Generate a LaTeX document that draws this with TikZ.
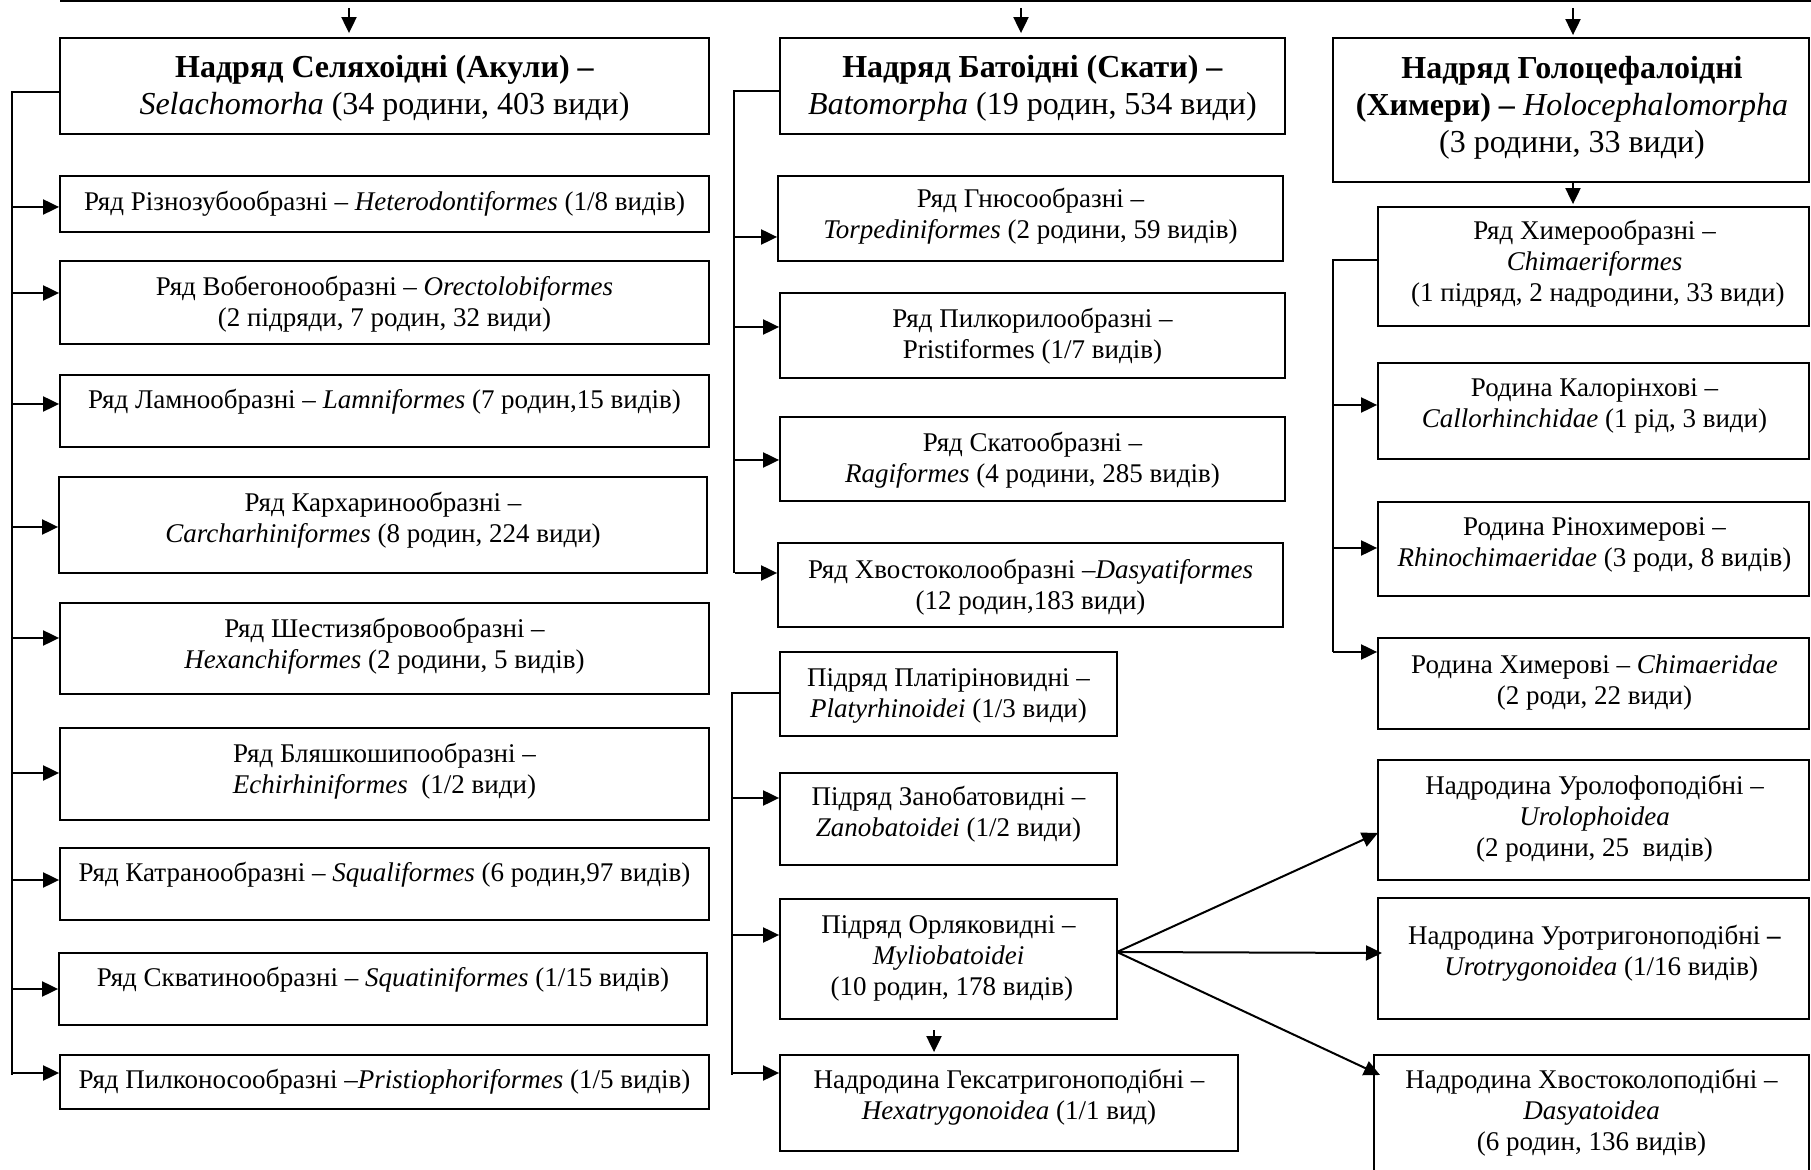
\documentclass[tikz,border=0pt]{standalone}
\usepackage{fontspec}
\setmainfont{Liberation Serif}
\usetikzlibrary{arrows.meta,fit}

\begin{document}
\begin{tikzpicture}[x=0.5pt,y=-0.5pt,
  box/.style={draw,line width=0.9pt,inner sep=0pt},
  txt/.style={align=center,inner sep=0pt,yshift=1.25pt,font=\fontsize{13.5}{15.5}\selectfont},
  ttl/.style={align=center,inner sep=0pt,yshift=1.25pt,font=\fontsize{16}{18.5}\selectfont},
  conn/.style={line width=0.8pt},
  arr/.style={line width=1pt,-{Triangle[length=8pt,width=7.5pt]}},
]
\useasboundingbox (0,0) rectangle (1811,1170);

% top rule
\coordinate (topL) at (60,1);
\coordinate (topR) at (1811,1);
\draw[line width=1pt] (topL) -- (topR);

% ---------- boxes ----------
\node[box,fit={(60,38) (709,134)}] (L0) {};
\node[box,fit={(60,176) (709,232)}] (L1) {};
\node[box,fit={(60,261) (709,344)}] (L2) {};
\node[box,fit={(60,375) (709,447)}] (L3) {};
\node[box,fit={(59,477) (707,573)}] (L4) {};
\node[box,fit={(60,603) (709,694)}] (L5) {};
\node[box,fit={(60,728) (709,820)}] (L6) {};
\node[box,fit={(60,848) (709,920)}] (L7) {};
\node[box,fit={(59,953) (707,1025)}] (L8) {};
\node[box,fit={(60,1055) (709,1109)}] (L9) {};

\node[box,fit={(780,38) (1285,134)}] (M0) {};
\node[box,fit={(778,176) (1283,261)}] (M1) {};
\node[box,fit={(780,293) (1285,378)}] (M2) {};
\node[box,fit={(780,417) (1285,501)}] (M3) {};
\node[box,fit={(778,543) (1283,627)}] (M4) {};
\node[box,fit={(780,652) (1117,736)}] (P1) {};
\node[box,fit={(780,773) (1117,865)}] (P2) {};
\node[box,fit={(780,899) (1117,1019)}] (P3) {};
\node[box,fit={(780,1055) (1238,1151)}] (P4) {};

\node[box,fit={(1333,38) (1809,182)}] (H0) {};
\node[box,fit={(1378,207) (1809,326)}] (R1) {};
\node[box,fit={(1378,363) (1809,459)}] (R2) {};
\node[box,fit={(1378,502) (1809,596)}] (R3) {};
\node[box,fit={(1378,638) (1809,729)}] (R4) {};
\node[box,fit={(1378,760) (1809,880)}] (R5) {};
\node[box,fit={(1378,898) (1809,1019)}] (R6) {};
\node[box,fit={(1374,1055) (1809,1190)}] (R7) {};

% ---------- texts ----------
\node[ttl] (L0t) at (384.5,91.5) {\strut\textbf{Надряд Селяхоідні (Акули) –}\\\strut\textit{Selachomorha} (34 родини, 403 види)};
\node[txt] (L1t) at (384.5,207) {\strut Ряд Різнозубообразні – \textit{Heterodontiformes} (1/8 видів)};
\node[txt] (L2t) at (384.5,307) {\strut Ряд Вобегонообразні – \textit{Orectolobiformes}\\\strut(2 підряди, 7 родин, 32 види)};
\node[txt] (L3t) at (384.5,405) {\strut Ряд Ламнообразні – \textit{Lamniformes} (7 родин,15 видів)};
\node[txt] (L4t) at (383,523) {\strut Ряд Кархаринообразні –\\\strut\textit{Carcharhiniformes} (8 родин, 224 види)};
\node[txt] (L5t) at (384.5,649) {\strut Ряд Шестизябровообразні –\\\strut\textit{Hexanchiformes} (2 родини, 5 видів)};
\node[txt] (L6t) at (384.5,774) {\strut Ряд Бляшкошипообразні –\\\strut\textit{Echirhiniformes}\ \ (1/2 види)};
\node[txt] (L7t) at (384.5,878) {\strut Ряд Катранообразні – \textit{Squaliformes} (6 родин,97 видів)};
\node[txt] (L8t) at (383,983) {\strut Ряд Скватинообразні – \textit{Squatiniformes} (1/15 видів)};
\node[txt] (L9t) at (384.5,1085) {\strut Ряд Пилконосообразні –\textit{Pristiophoriformes} (1/5 видів)};

\node[ttl] (M0t) at (1032.5,91.5) {\strut\textbf{Надряд Батоідні (Скати) –}\\\strut\textit{Batomorpha} (19 родин, 534 види)};
\node[txt] (M1t) at (1030.5,219.5) {\strut Ряд Гнюсообразні –\\\strut\textit{Torpediniformes} (2 родини, 59 видів)};
\node[txt] (M2t) at (1032.5,339) {\strut Ряд Пилкорилообразні –\\\strut Pristiformes (1/7 видів)};
\node[txt] (M3t) at (1032.5,463) {\strut Ряд Скатообразні –\\\strut\textit{Ragiformes} (4 родини, 285 видів)};
\node[txt] (M4t) at (1030.5,590) {\strut Ряд Хвостоколообразні –\textit{Dasyatiformes}\\\strut(12 родин,183 види)};
\node[txt] (P1t) at (948.5,698) {\strut Підряд Платіріновидні –\\\strut\textit{Platyrhinoidei} (1/3 види)};
\node[txt] (P2t) at (948.5,817) {\strut Підряд Занобатовидні –\\\strut\textit{Zanobatoidei} (1/2 види)};
\node[txt] (P3t) at (948.5,961) {\strut Підряд Орляковидні –\\\strut\textit{Myliobatoidei}\\\strut\ (10 родин, 178 видів)};
\node[txt] (P4t) at (1009,1100.5) {\strut Надродина Гексатригоноподібні –\\\strut\textit{Hexatrygonoidea} (1/1 вид)};

\node[ttl] (H0t) at (1572,111) {\strut\textbf{Надряд Голоцефалоідні}\\\strut\textbf{(Химери) –} \textit{Holocephalomorpha}\\\strut(3 родини, 33 види)};
\node[txt] (R1t) at (1594.5,267) {\strut Ряд Химерообразні –\\\strut\textit{Chimaeriformes}\\\strut\ (1 підряд, 2 надродини, 33 види)};
\node[txt] (R2t) at (1594.5,408) {\strut Родина Калорінхові –\\\strut\textit{Callorhinchidae} (1 рід, 3 види)};
\node[txt] (R3t) at (1594.5,547) {\strut Родина Рінохимерові –\\\strut\textit{Rhinochimaeridae} (3 роди, 8 видів)};
\node[txt] (R4t) at (1594.5,685) {\strut Родина Химерові – \textit{Chimaeridae}\\\strut(2 роди, 22 види)};
\node[txt] (R5t) at (1594.5,822) {\strut Надродина Уролофоподібні –\\\strut\textit{Urolophoidea}\\\strut(2 родини, 25\ \ видів)};
\node[txt] (R6t) at (1594.5,956.5) {\strut Надродина Уротригоноподібні \textbf{–}\\\strut\ \ \textit{Urotrygonoidea} (1/16 видів)};
\node[txt] (R7t) at (1591.5,1115.7) {\strut Надродина Хвостоколоподібні –\\\strut\textit{Dasyatoidea}\\\strut(6 родин, 136 видів)};

% ---------- arrows from the top rule ----------
\coordinate (dL) at (349,8);
\coordinate (dM) at (1021,8);
\coordinate (dH) at (1573,8);
\draw[arr,shorten >=2pt] (dL) -- (dL |- L0.north);
\draw[arr,shorten >=2pt] (dM) -- (dM |- M0.north);
\draw[arr,shorten >=1pt] (dH) -- (dH |- H0.north);
\draw[arr,shorten >=1pt] (dH |- H0.south) -- (dH |- R1.north);

% ---------- left bracket ----------
\coordinate (lt) at (12,92);
\coordinate (lb) at (12,1075);
\draw[conn] (lt -| L0.west) -- (lt) -- (lb);
\foreach \n/\y in {L1/207,L2/293,L3/404,L4/527,L5/638,L6/773,L7/880,L8/989,L9/1073}{
  \coordinate (s\n) at (12,\y);
  \draw[arr] (s\n) -- (s\n -| \n.west);
}

% ---------- middle brackets ----------
\coordinate (mt) at (734,91);
\coordinate (mb) at (734,573);
\draw[conn] (mt -| M0.west) -- (mt) -- (mb);
\foreach \n/\y in {M1/237,M2/327,M3/460,M4/573}{
  \coordinate (s\n) at (735,\y);
  \draw[arr] (s\n) -- (s\n -| \n.west);
}
\coordinate (pt) at (732,693);
\coordinate (pb) at (732,1075);
\draw[conn] (pt -| P1.west) -- (pt) -- (pb);
\foreach \n/\y in {P2/798,P3/935,P4/1073}{
  \coordinate (s\n) at (733,\y);
  \draw[arr] (s\n) -- (s\n -| \n.west);
}
\coordinate (dP) at (934,1019);
\draw[arr,shorten <=5.5pt,shorten >=1pt] (dP) -- (dP |- P4.north);

% ---------- right bracket ----------
\coordinate (rt) at (1333,260);
\coordinate (rb) at (1333,652);
\draw[conn] (rt -| R1.west) -- (rt) -- (rb);
\foreach \n/\y in {R2/405,R3/548,R4/652}{
  \coordinate (s\n) at (1333,\y);
  \draw[arr] (s\n) -- (s\n -| \n.west);
}

% ---------- fan from Myliobatoidei ----------
\coordinate (fork) at (1117,952);
\coordinate (t5) at (1378,833);
\coordinate (t6) at (1382,953);
\coordinate (t7) at (1380,1075);
\draw[arr] (fork) -- (t5);
\draw[arr] (fork) -- (t6);
\draw[arr] (fork) -- (t7);
\end{tikzpicture}
\end{document}
